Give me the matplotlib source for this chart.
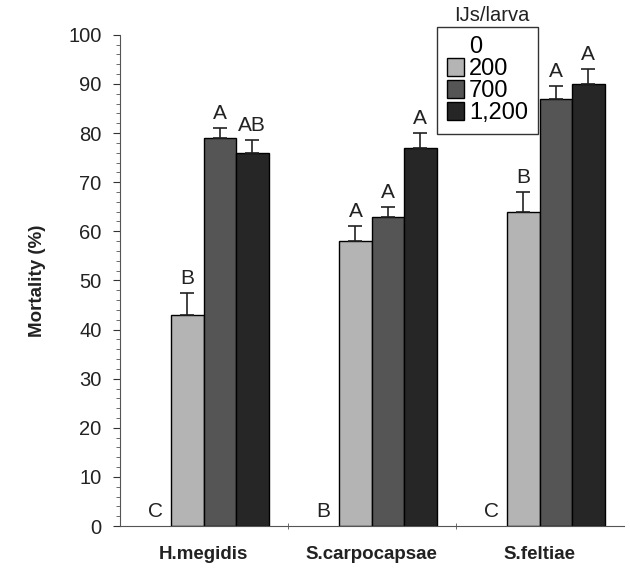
import matplotlib
matplotlib.use("Agg")
import matplotlib.pyplot as plt
import numpy as np

plt.rcParams['font.family'] = ['Liberation Sans', 'DejaVu Sans']

species = ["H.megidis", "S.carpocapsae", "S.feltiae"]
doses = ["0", "200", "700", "1,200"]
mortality = {
    "0": [0, 0, 0],
    "200": [43, 58, 64],
    "700": [79, 63, 87],
    "1,200": [76, 77, 90],
}
errors = {
    "0": [0, 0, 0],
    "200": [4.5, 3, 4],
    "700": [2, 2, 2.5],
    "1,200": [2.5, 3, 3],
}
letters = {
    "0": ["C", "B", "C"],
    "200": ["B", "A", "B"],
    "700": ["A", "A", "A"],
    "1,200": ["AB", "A", "A"],
}
colors = {"0": "white", "200": "#b4b4b4", "700": "#555555", "1,200": "#262626"}

fig = plt.figure(figsize=(6.3, 5.7), dpi=100)
ax = fig.add_axes([0.19, 0.077, 0.80, 0.862])

x = np.arange(len(species))
width = 0.193
offsets = (np.arange(len(doses)) - 1.5) * width

handles = []
for d, off in zip(doses, offsets):
    vals = np.array(mortality[d])
    errs = np.array(errors[d])
    if d == "0":
        h = ax.bar(x + off, vals, width, color="none", edgecolor="none", label=d)
    else:
        h = ax.bar(x + off, vals, width, color=colors[d], edgecolor="black",
                   linewidth=1.0, label=d, zorder=2)
        ax.errorbar(x + off, vals, yerr=[np.zeros_like(errs), errs], fmt="none",
                    ecolor="#222222", elinewidth=1.2, capsize=5, capthick=1.2, zorder=3)
    handles.append(h)
    for xi, v, e, lab in zip(x + off, vals, errs, letters[d]):
        ax.text(xi, v + e + 1.0, lab, ha="center", va="bottom", fontsize=15,
                color="#222222")

ax.set_ylim(0, 100)
ax.set_xlim(-0.5, 2.5)
ax.set_yticks(np.arange(0, 101, 10))
ax.set_yticks(np.arange(0, 101, 2), minor=True)
ax.tick_params(axis="y", which="major", length=5, labelsize=14.5, colors="#333333",
               labelcolor="#222222", pad=8)
ax.tick_params(axis="y", which="minor", length=3, color="#555555")

ax.set_xticks(x)
ax.set_xticklabels(species, fontsize=13.5, fontweight="bold", color="#222222")
ax.set_xticks([0.5, 1.5], minor=True)
ax.tick_params(axis="x", which="major", length=0, pad=14)
ax.tick_params(axis="x", which="minor", length=4, direction="inout", color="#555555")

for s in ["top", "right"]:
    ax.spines[s].set_visible(False)
ax.spines["left"].set_color("#555555")
ax.spines["bottom"].set_color("#555555")

ax.set_ylabel("Mortality (%)", fontsize=13.5, fontweight="bold", color="#222222",
              labelpad=16)

leg = ax.legend(handles=handles, labels=doses, loc="upper left",
                bbox_to_anchor=(0.63, 1.016), borderaxespad=0, fontsize=17,
                frameon=True, fancybox=False, edgecolor="black",
                handlelength=0.75, handleheight=0.75, handletextpad=0.2,
                labelspacing=0.0, borderpad=0.4)
leg.get_frame().set_linewidth(1.0)
fig.text(0.78, 0.972, "IJs/larva", fontsize=14.5, ha="center", va="center",
         color="#222222")

fig.savefig("out.png", dpi=100)
